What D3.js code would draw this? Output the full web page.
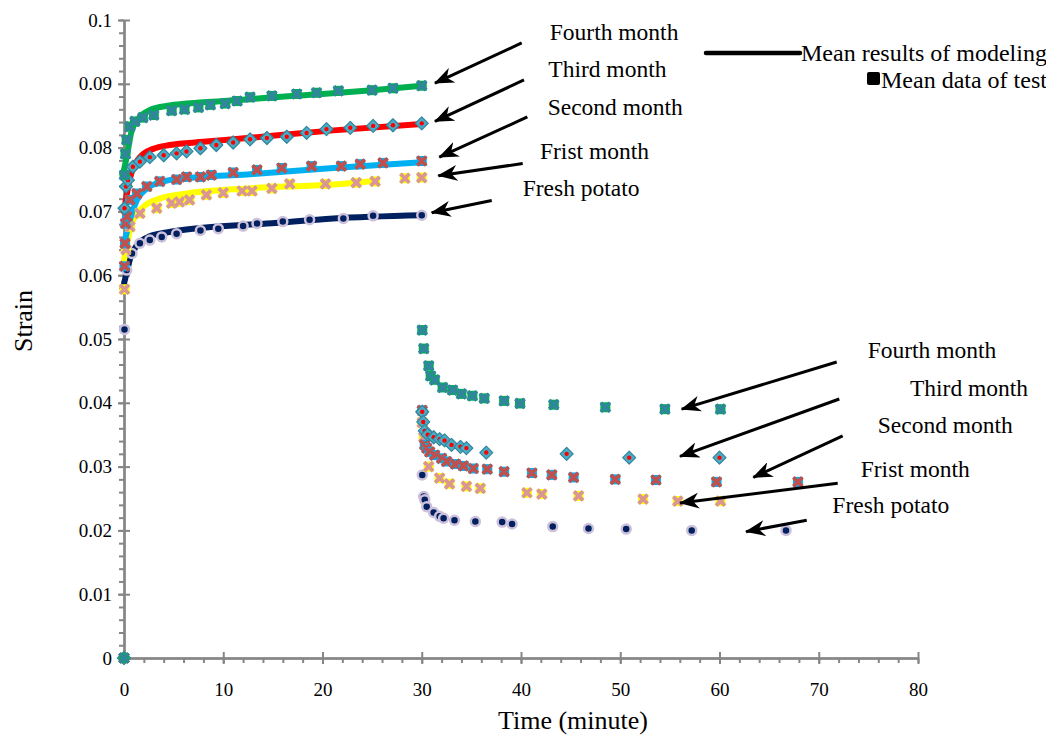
<!DOCTYPE html>
<html>
<head>
<meta charset="utf-8">
<script src="https://cdn.jsdelivr.net/npm/d3@7"></script>
<style>
  body { margin: 0; background: #fff; }
  text { font-family: "Liberation Serif", "Times New Roman", serif; fill: #000; }
</style>
</head>
<body>
<div id="chart"></div>
<script>
// Data: [time (minute), strain]
const freshModel  = [[0,0.0587],[0.3,0.0606],[0.6,0.0625],[1.3,0.0647],[2.6,0.0661],[4.3,0.0667],[7.7,0.0674],[14.4,0.0681],[21.1,0.0689],[30,0.0694]];
const firstModel  = [[0,0.0624],[0.3,0.0648],[0.6,0.0671],[0.94,0.0687],[1.94,0.0707],[3.6,0.0720],[6.3,0.0728],[12.4,0.0736],[21.1,0.0742],[25.5,0.0748]];
const secondModel = [[0,0.0650],[0.3,0.0668],[0.6,0.0687],[1.3,0.0718],[2.3,0.0736],[4,0.0747],[6.3,0.0752],[12.4,0.0758],[21.1,0.0768],[30,0.0777]];
const thirdModel  = [[0,0.0700],[0.3,0.0728],[0.6,0.0752],[0.94,0.0768],[1.4,0.0781],[1.94,0.0790],[2.95,0.0798],[4.6,0.0804],[8,0.0809],[12.4,0.0815],[21.1,0.0827],[30,0.0837]];
const fourthModel = [[0,0.0765],[0.27,0.0785],[0.77,0.0826],[1.6,0.0848],[2.6,0.0859],[4.6,0.0866],[8,0.0871],[12,0.0875],[15,0.0879],[20,0.0884],[25,0.0890],[30,0.0897]];

const freshTest = [[0,0],[0.05,0.0515],[0.27,0.0608],[0.8,0.0634],[1.6,0.0650],[2.6,0.0655],[3.8,0.0660],[5.3,0.0665],[7.7,0.0670],[9.5,0.0673],[12,0.0677],[13.4,0.0681],[16,0.0684],[18.7,0.0687],[22.1,0.0689],[25.1,0.0693],[30,0.0694],
  [30.05,0.0287],[30.2,0.0253],[30.3,0.0248],[30.5,0.0237],[31.2,0.0228],[31.8,0.0222],[32.2,0.0219],[33.3,0.0216],[35.4,0.0214],[38.1,0.0213],[39.1,0.0210],[43.2,0.0206],[46.8,0.0203],[50.6,0.0202],[57.2,0.0200],[66.7,0.0200]];
const firstTest = [[0,0],[0.05,0.0578],[0.2,0.0640],[0.6,0.0676],[1.6,0.0697],[3.3,0.0705],[4.8,0.0713],[5.6,0.0715],[6.6,0.0718],[8.3,0.0726],[10,0.0729],[11.9,0.0732],[12.9,0.0732],[14.9,0.0736],[16.7,0.0743],[20.3,0.0743],[23.4,0.0745],[25.3,0.0747],[28.3,0.0752],[30,0.0753],
  [30.05,0.0369],[30.2,0.0346],[30.7,0.0300],[31.8,0.0282],[32.8,0.0273],[34.5,0.0269],[35.9,0.0266],[40.6,0.0259],[42.1,0.0257],[45.8,0.0254],[52.3,0.0249],[55.8,0.0246],[60.1,0.0246]];
const secondTest = [[0,0],[0.05,0.0614],[0.1,0.0650],[0.15,0.0681],[0.3,0.0692],[0.6,0.0718],[1.3,0.0728],[2.3,0.0739],[3.6,0.0747],[5.3,0.0750],[6.3,0.0754],[7.7,0.0754],[8.8,0.0757],[11,0.0761],[13.4,0.0765],[15.9,0.0768],[18.9,0.0771],[21.9,0.0771],[23.8,0.0774],[26.1,0.0776],[30,0.0779],
  [30.05,0.0388],[30.3,0.0334],[30.5,0.0329],[30.8,0.0323],[31.3,0.0318],[32.0,0.0313],[32.5,0.0308],[33.4,0.0304],[34.2,0.0301],[35.2,0.0297],[36.6,0.0296],[38.3,0.0292],[41.1,0.0290],[43.1,0.0287],[45.3,0.0283],[49.5,0.0280],[53.6,0.0279],[59.7,0.0276],[67.9,0.0276]];
const thirdTest = [[0,0],[0.05,0.0705],[0.2,0.0739],[0.4,0.0749],[0.9,0.0770],[1.6,0.0778],[2.6,0.0785],[4,0.0788],[5.3,0.0791],[6.3,0.0794],[7.7,0.0799],[9.3,0.0804],[11,0.0808],[12.7,0.0813],[14.4,0.0815],[16.4,0.0817],[18.4,0.0823],[20.4,0.0829],[22.8,0.0831],[25.1,0.0834],[27.1,0.0835],[30,0.0838],
  [30.05,0.0386],[30.15,0.0370],[30.3,0.0356],[30.6,0.0350],[31.2,0.0346],[31.8,0.0343],[32.3,0.0341],[33.0,0.0334],[33.9,0.0331],[34.5,0.0329],[36.5,0.0322],[44.6,0.0320],[50.9,0.0314],[60.0,0.0314]];
const fourthTest = [[0,0],[0.05,0.0757],[0.15,0.0790],[0.27,0.0812],[0.6,0.0833],[1.1,0.0841],[1.9,0.0847],[3.0,0.0851],[4.8,0.0858],[6.1,0.0860],[7.5,0.0863],[8.7,0.0867],[10.2,0.0869],[11.4,0.0873],[12.7,0.0879],[14.9,0.0881],[17.4,0.0884],[19.4,0.0886],[21.6,0.0889],[25.0,0.0890],[27.1,0.0893],[30.0,0.0897],
  [30.05,0.0514],[30.2,0.0485],[30.7,0.0458],[30.9,0.0442],[31.3,0.0436],[32.1,0.0424],[33.1,0.0420],[34.0,0.0414],[35.1,0.0411],[36.3,0.0407],[38.3,0.0403],[39.9,0.0399],[43.3,0.0397],[48.5,0.0393],[54.5,0.0390],[60.1,0.0390]];

const xTicks = [0, 10, 20, 30, 40, 50, 60, 70, 80];
const yTicks = [0, 0.01, 0.02, 0.03, 0.04, 0.05, 0.06, 0.07, 0.08, 0.09, 0.1];

// annotation labels: text anchor [t, strain], arrow tail, arrow tip
const labelNames = ['Fourth month', 'Third month', 'Second month', 'Frist month', 'Fresh potato'];
const topLabelPos  = [[42.9,0.0969],[42.75,0.0911],[42.69,0.0851],[41.91,0.0782],[40.17,0.0724]];
const topArrowFrom = [[40.07,0.0964],[40.30,0.0906],[40.64,0.0848],[40.17,0.0775],[37.05,0.0717]];
const topArrowTo   = [[31.33,0.0901],[31.33,0.0841],[31.77,0.0785],[31.67,0.0756],[31.0,0.0698]];
const lowLabelPos  = [[74.93,0.0470],[79.19,0.0410],[75.94,0.0352],[74.23,0.0283],[71.37,0.0227]];
const lowArrowFrom = [[71.81,0.0464],[72.07,0.0406],[72.41,0.0348],[71.91,0.0274],[68.79,0.0216]];
const lowArrowTo   = [[56.19,0.0390],[56.02,0.0316],[63.41,0.0283],[56.02,0.0243],[62.67,0.0198]];

// Chart area
const svgWidth = 1046;
const svgHeight = 735;
const margin = { top: 20, bottom: 77, right: 128, left: 124 };
const chartWidth = svgWidth - margin.left - margin.right;
const chartHeight = svgHeight - margin.top - margin.bottom;

const svg = d3.select('#chart')
  .append('svg')
  .attr('width', svgWidth)
  .attr('height', svgHeight);

svg.append('defs').append('marker')
  .attr('id', 'arrow')
  .attr('markerUnits', 'userSpaceOnUse')
  .attr('markerWidth', 20)
  .attr('markerHeight', 16)
  .attr('refX', 19)
  .attr('refY', 8)
  .attr('orient', 'auto')
  .append('path')
  .attr('d', 'M0,0 L20,8 L0,16 L6,8 Z')
  .attr('fill', '#000');

const chartGroup = svg.append('g')
  .attr('transform', `translate(${margin.left}, ${margin.top})`);

const xScale = d3.scaleLinear().domain([0, 80]).range([0, chartWidth]);
const yScale = d3.scaleLinear().domain([0, 0.1]).range([chartHeight, 0]);

// Axes: minor ticks outside, major ticks crossing
const axisColor = '#868686';
const xMinor = chartGroup.append('g').attr('transform', `translate(0, ${chartHeight})`)
  .call(d3.axisBottom(xScale).tickValues(d3.range(0, 81, 2)).tickSizeInner(5).tickSizeOuter(0).tickFormat(''));
const xInner = chartGroup.append('g').attr('transform', `translate(0, ${chartHeight})`)
  .call(d3.axisBottom(xScale).tickValues(xTicks).tickSizeInner(-6).tickSizeOuter(0).tickFormat(''));
const xMajor = chartGroup.append('g').attr('transform', `translate(0, ${chartHeight})`)
  .call(d3.axisBottom(xScale).tickValues(xTicks).tickSizeInner(6).tickSizeOuter(0).tickPadding(19));

const yMinor = chartGroup.append('g')
  .call(d3.axisLeft(yScale).tickValues(d3.range(0, 51).map(i => i * 0.002)).tickSizeInner(5).tickSizeOuter(0).tickFormat(''));
const yInner = chartGroup.append('g')
  .call(d3.axisLeft(yScale).tickValues(yTicks).tickSizeInner(-6).tickSizeOuter(0).tickFormat(''));
const yMajor = chartGroup.append('g')
  .call(d3.axisLeft(yScale).tickValues(yTicks).tickSizeInner(6).tickSizeOuter(0).tickPadding(6).tickFormat(d3.format('~g')));

[xMinor, xInner, xMajor, yMinor, yInner, yMajor].forEach(g => {
  g.selectAll('path, line').attr('stroke', axisColor).attr('stroke-width', 2);
  g.selectAll('text').style('font-size', '19px').attr('fill', '#000');
});

// Model curves
const line = d3.line()
  .x(d => xScale(d[0]))
  .y(d => yScale(d[1]))
  .curve(d3.curveMonotoneX);

const models = [
  { data: freshModel, color: '#002060' },
  { data: firstModel, color: '#FFFF00' },
  { data: secondModel, color: '#00B0F0' },
  { data: thirdModel, color: '#FF0000' },
  { data: fourthModel, color: '#00B050' }
];
models.forEach(m => {
  chartGroup.append('path')
    .datum(m.data)
    .attr('d', line)
    .attr('fill', 'none')
    .attr('stroke', m.color)
    .attr('stroke-width', 6)
    .attr('stroke-linecap', 'round');
});

// Test markers
const cross = 'M-4.5,-4.5 L4.5,4.5 M-4.5,4.5 L4.5,-4.5';
function squareCross(sel, fill, crossColor) {
  sel.append('rect').attr('x', -5).attr('y', -5).attr('width', 10).attr('height', 10).attr('fill', fill);
  sel.append('path').attr('d', cross).attr('stroke', crossColor).attr('stroke-width', 3.8).attr('fill', 'none');
}
function pointGroups(data) {
  return chartGroup.append('g').selectAll('g')
    .data(data)
    .enter()
    .append('g')
    .attr('transform', d => `translate(${xScale(d[0])}, ${yScale(d[1])})`);
}

const freshPts = pointGroups(freshTest);
freshPts.append('circle').attr('r', 4.5).attr('fill', '#002060').attr('stroke', '#CCC0DA').attr('stroke-width', 2.5);

squareCross(pointGroups(firstTest), '#FFFF00', '#D99694');
squareCross(pointGroups(secondTest), '#00B0F0', '#C0504D');

const thirdPts = pointGroups(thirdTest);
thirdPts.append('path').attr('d', 'M0,-6.5 L6.5,0 L0,6.5 L-6.5,0 Z').attr('fill', '#4BACC6').attr('stroke', '#31859C').attr('stroke-width', 1.2).attr('stroke-linejoin', 'round');
thirdPts.append('circle').attr('r', 2.2).attr('fill', '#FF0000');

squareCross(pointGroups(fourthTest), '#00B050', '#31859C');

// Annotations with arrows
function annotate(pos, from, to) {
  labelNames.forEach((name, i) => {
    chartGroup.append('text')
      .attr('x', xScale(pos[i][0]))
      .attr('y', yScale(pos[i][1]))
      .style('font-size', '23.5px')
      .text(name);
    chartGroup.append('line')
      .attr('x1', xScale(from[i][0]))
      .attr('y1', yScale(from[i][1]))
      .attr('x2', xScale(to[i][0]))
      .attr('y2', yScale(to[i][1]))
      .attr('stroke', '#000')
      .attr('stroke-width', 3)
      .attr('marker-end', 'url(#arrow)');
  });
}
annotate(topLabelPos, topArrowFrom, topArrowTo);
annotate(lowLabelPos, lowArrowFrom, lowArrowTo);

// Axis titles
svg.append('text')
  .attr('transform', 'translate(32, 321) rotate(-90)')
  .attr('text-anchor', 'middle')
  .style('font-size', '26px')
  .text('Strain');

svg.append('text')
  .attr('x', 573)
  .attr('y', 729)
  .attr('text-anchor', 'middle')
  .style('font-size', '26px')
  .text('Time (minute)');

// Legend
const legend = svg.append('g');
legend.append('line')
  .attr('x1', 706).attr('y1', 53).attr('x2', 800).attr('y2', 53)
  .attr('stroke', '#000').attr('stroke-width', 4.5).attr('stroke-linecap', 'round');
legend.append('text')
  .attr('x', 801).attr('y', 61)
  .style('font-size', '24px')
  .text('Mean results of modeling');
legend.append('rect')
  .attr('x', 867).attr('y', 72).attr('width', 13).attr('height', 13).attr('rx', 2)
  .attr('fill', '#000');
legend.append('text')
  .attr('x', 881).attr('y', 88)
  .style('font-size', '24px')
  .text('Mean data of test');
</script>
</body>
</html>
